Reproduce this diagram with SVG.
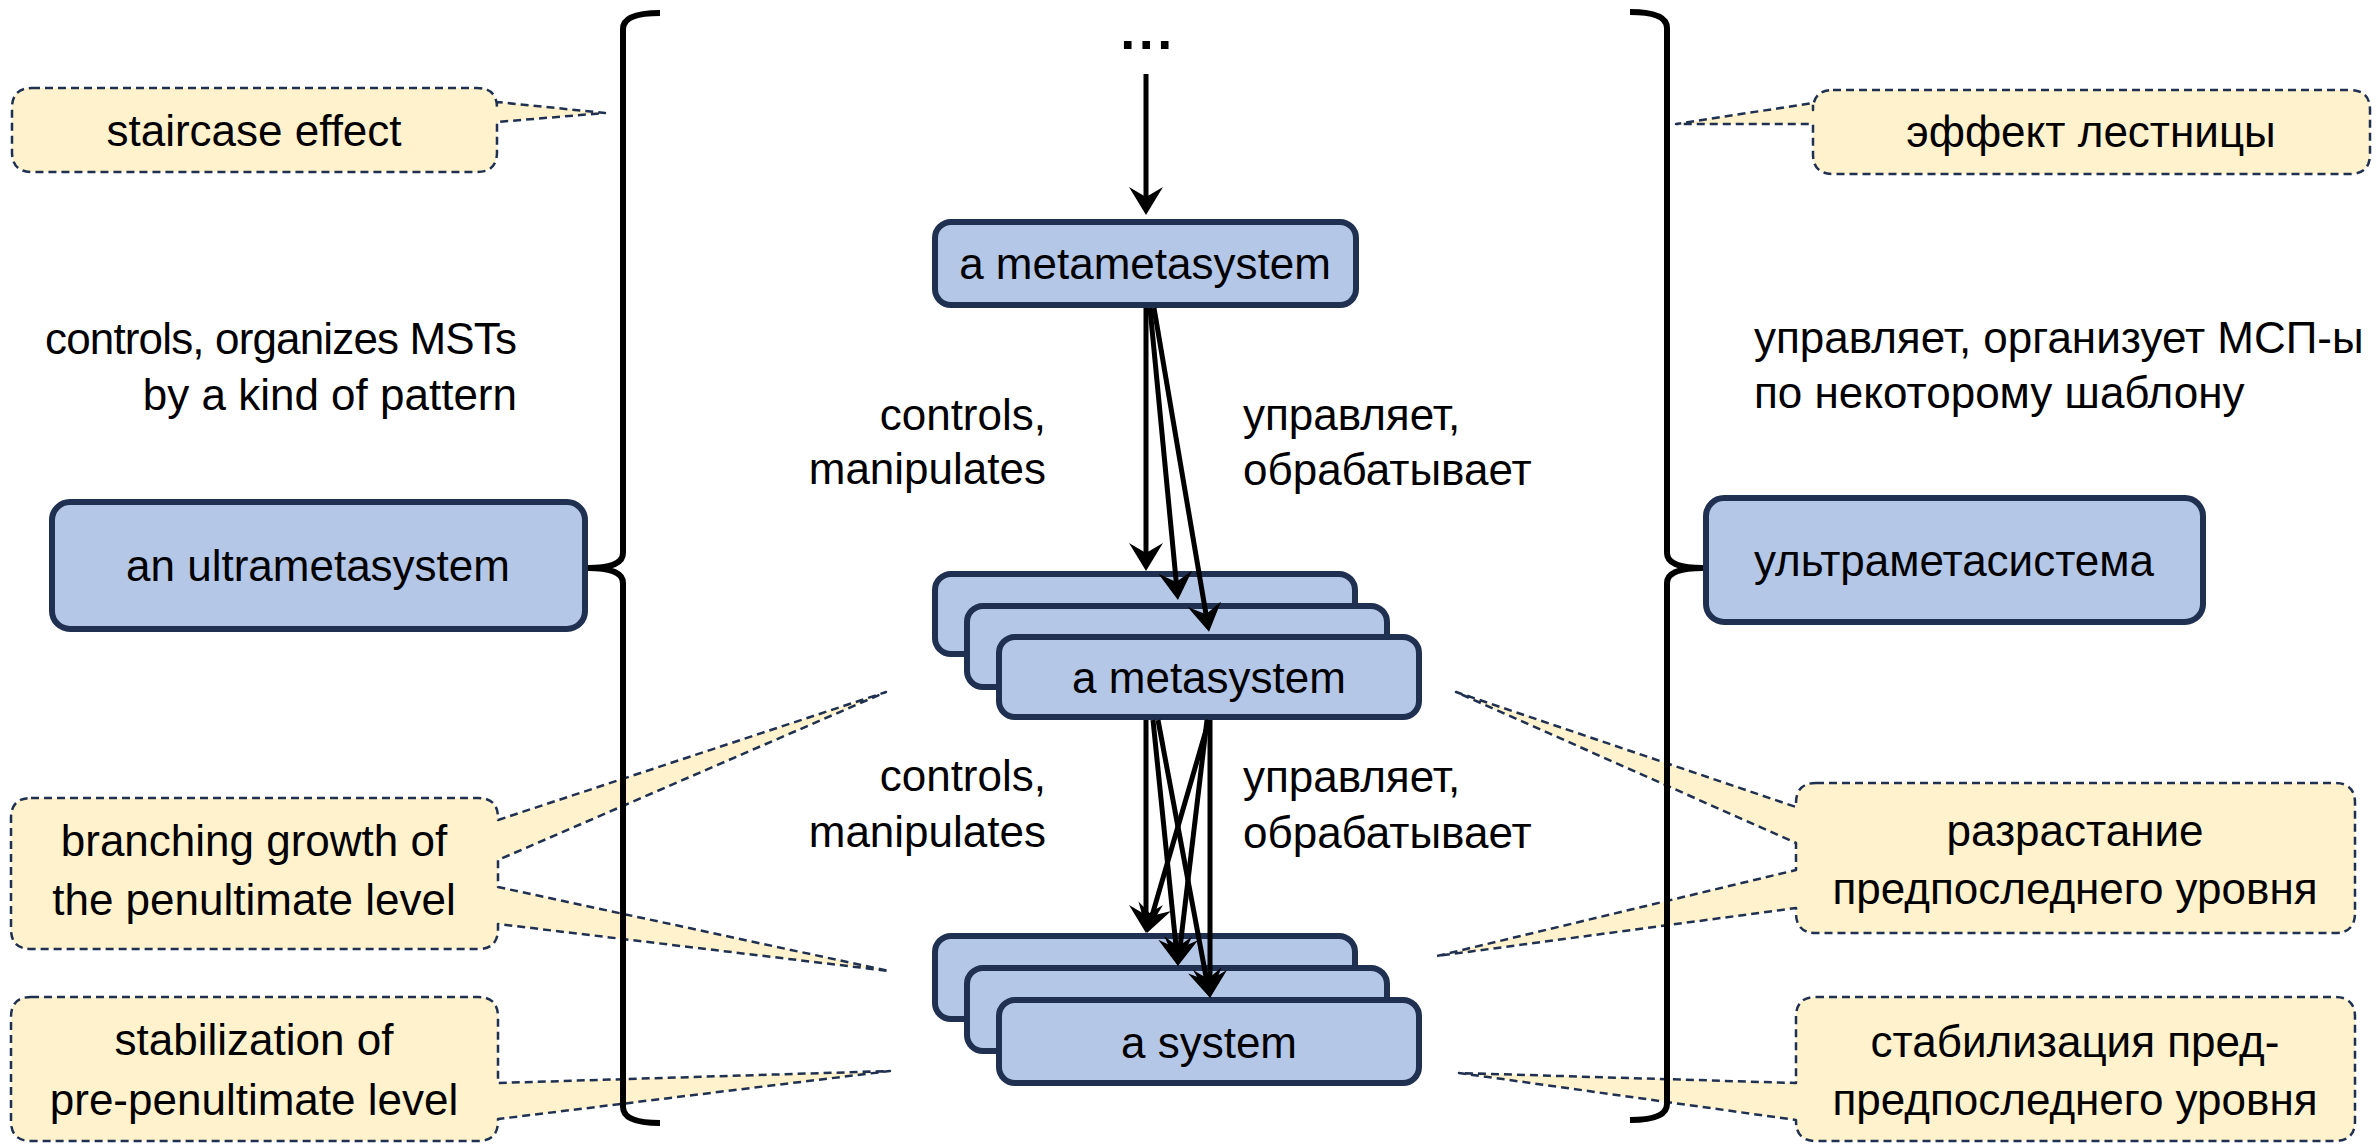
<svg xmlns="http://www.w3.org/2000/svg" width="2379" height="1145" viewBox="0 0 2379 1145">
<style>
  text { font-family: "Liberation Sans", Arial, sans-serif; font-size: 44px; fill: #000; }
  .mid { text-anchor: middle; }
  .end { text-anchor: end; }
  .node rect { fill: #B4C7E7; stroke: #1F3050; stroke-width: 6; }
  .callout path { fill: #FFF2CC; stroke: #1F3050; stroke-width: 2.5; stroke-dasharray: 8 5; stroke-linejoin: round; }
  .conn line { stroke: #000; stroke-width: 5; marker-end: url(#ah); }
  .brace { fill: none; stroke: #000; stroke-width: 6; stroke-linecap: butt; }
</style>
<defs>
  <marker id="ah" markerUnits="userSpaceOnUse" markerWidth="30" markerHeight="38" viewBox="0 -19 30 38" refX="19" refY="0" orient="auto">
    <path d="M28,0 L0,-17 L10,0 L0,17 Z" fill="#000"/>
  </marker>
</defs>

<rect width="2379" height="1145" fill="#FFFFFF"/>

<!-- callouts -->
<g id="callout-staircase" class="callout">
  <path d="M32,88 H477 Q497,88 497,108 V102 L605,113 L497,122 V152 Q497,172 477,172 H32 Q12,172 12,152 V108 Q12,88 32,88 Z"/>
  <text class="mid" x="254" y="146">staircase effect</text>
</g>
<g id="callout-staircase-ru" class="callout">
  <path d="M1833,90 H2350 Q2370,90 2370,110 V154 Q2370,174 2350,174 H1833 Q1813,174 1813,154 V124 L1676,124 L1813,103 V110 Q1813,90 1833,90 Z"/>
  <text class="mid" x="2091" y="147">эффект лестницы</text>
</g>
<g id="callout-branching" class="callout">
  <path d="M31,798 H478 Q498,798 498,818 V820 L886,692 L498,860 V887 L889,971 L498,924 V929 Q498,949 478,949 H31 Q11,949 11,929 V818 Q11,798 31,798 Z"/>
  <text class="mid" x="254" y="856">branching growth of</text>
  <text class="mid" x="254" y="915">the penultimate level</text>
</g>
<g id="callout-stabilization" class="callout">
  <path d="M31,997 H478 Q498,997 498,1017 V1083 L890,1071 L498,1119 V1121 Q498,1141 478,1141 H31 Q11,1141 11,1121 V1017 Q11,997 31,997 Z"/>
  <text class="mid" x="254" y="1055">stabilization of</text>
  <text class="mid" x="254" y="1115">pre-penultimate level</text>
</g>
<g id="callout-branching-ru" class="callout">
  <path d="M1816,783 H2335 Q2355,783 2355,803 V913 Q2355,933 2335,933 H1816 Q1796,933 1796,913 V908 L1437,956 L1796,870 V843 L1456,692 L1796,807 V803 Q1796,783 1816,783 Z"/>
  <text class="mid" x="2075" y="846">разрастание</text>
  <text class="mid" x="2075" y="904">предпоследнего уровня</text>
</g>
<g id="callout-stabilization-ru" class="callout">
  <path d="M1816,997 H2335 Q2355,997 2355,1017 V1121 Q2355,1141 2335,1141 H1816 Q1796,1141 1796,1121 V1120 L1459,1073 L1796,1083 V1017 Q1796,997 1816,997 Z"/>
  <text class="mid" x="2075" y="1057">стабилизация пред-</text>
  <text class="mid" x="2075" y="1115">предпоследнего уровня</text>
</g>

<!-- braces -->
<g id="braces">
  <path class="brace" d="M660,13 Q623,13 623,29 V553 Q623,568 588,568 Q623,568 623,583 V1107 Q623,1123 660,1123"/>
  <path class="brace" d="M1630,12 Q1667,12 1667,28 V553 Q1667,568 1703,568 Q1667,568 1667,583 V1104 Q1667,1120 1630,1120"/>
</g>

<!-- side labels -->
<g id="label-left">
  <text class="end" x="517" y="354" textLength="472" lengthAdjust="spacing">controls, organizes MSTs</text>
  <text class="end" x="517" y="410">by a kind of pattern</text>
</g>
<g id="label-right">
  <text x="1754" y="353">управляет, организует МСП-ы</text>
  <text x="1754" y="408">по некоторому шаблону</text>
</g>

<!-- nodes -->
<g id="ellipsis">
  <text class="mid" x="1148" y="49" style="font-size:54px;font-weight:bold;letter-spacing:3.5px">...</text>
</g>
<g id="metametasystem" class="node">
  <rect x="935" y="222" width="421" height="83" rx="16"/>
  <text class="mid" x="1145" y="279">a metametasystem</text>
</g>
<g id="metasystem" class="node">
  <rect x="935" y="574" width="420" height="80" rx="16"/>
  <rect x="967" y="606" width="420" height="81" rx="16"/>
  <rect x="999" y="637" width="420" height="80" rx="16"/>
  <text class="mid" x="1209" y="693">a metasystem</text>
</g>
<g id="system" class="node">
  <rect x="935" y="936" width="420" height="83" rx="16"/>
  <rect x="967" y="968" width="420" height="83" rx="16"/>
  <rect x="999" y="1000" width="420" height="83" rx="16"/>
  <text class="mid" x="1209" y="1058">a system</text>
</g>
<g id="ultrametasystem" class="node">
  <rect x="52" y="502" width="533" height="127" rx="18"/>
  <text class="mid" x="318" y="581">an ultrametasystem</text>
</g>
<g id="ultrametasystem-ru" class="node">
  <rect x="1706" y="498" width="497" height="124" rx="18"/>
  <text class="mid" x="1954" y="576">ультраметасистема</text>
</g>

<!-- edge labels -->
<g id="edge-labels">
  <text class="end" x="1046" y="430">controls,</text>
  <text class="end" x="1046" y="484">manipulates</text>
  <text x="1243" y="430">управляет,</text>
  <text x="1243" y="485">обрабатывает</text>
  <text class="end" x="1046" y="791">controls,</text>
  <text class="end" x="1046" y="847">manipulates</text>
  <text x="1243" y="792">управляет,</text>
  <text x="1243" y="848">обрабатывает</text>
</g>

<!-- connectors -->
<g id="connectors" class="conn">
  <line x1="1146" y1="74" x2="1146" y2="206"/>
  <line x1="1146" y1="308" x2="1146" y2="562"/>
  <line x1="1150" y1="308" x2="1177.1" y2="591"/>
  <line x1="1154" y1="308" x2="1207.5" y2="623"/>
  <line x1="1146" y1="720" x2="1146" y2="924"/>
  <line x1="1153" y1="720" x2="1177.1" y2="957"/>
  <line x1="1158" y1="720" x2="1208.3" y2="989"/>
  <line x1="1209" y1="720" x2="1149.5" y2="924.4"/>
  <line x1="1207" y1="720" x2="1178.9" y2="957"/>
  <line x1="1210" y1="720" x2="1210" y2="989"/>
</g>
</svg>
